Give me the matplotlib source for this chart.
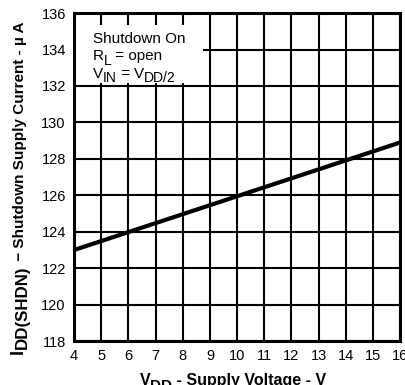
import numpy as np
import matplotlib.pyplot as plt
from matplotlib.patches import Rectangle

# data
vdd = [4, 16]
idd = [123.0, 128.9]

x_ticks = list(range(4, 17))
y_ticks = list(range(118, 137, 2))

plt.rcParams['font.family'] = ['Liberation Sans', 'DejaVu Sans']

fig = plt.figure(figsize=(4.05, 3.85), dpi=100)
ax = fig.add_axes([0.183, 0.114, 0.805, 0.852])


def chain(first, parts, rot=False):
    # parts: (text, size, shift in points); shift < 0 means lowered (subscript)
    prev = first
    for s, size, shift in parts:
        if rot:
            t = ax.annotate(s, xy=(1, 1), xycoords=(first, prev),
                            xytext=(-shift, 0), textcoords='offset points',
                            rotation=90, ha='right', va='bottom',
                            fontsize=size, fontweight=first.get_fontweight(),
                            annotation_clip=False)
        else:
            t = ax.annotate(s, xy=(1, 0), xycoords=(prev, first),
                            xytext=(0, shift), textcoords='offset points',
                            ha='left', va='bottom', fontsize=size,
                            fontweight=first.get_fontweight(),
                            annotation_clip=False)
        prev = t


ax.plot(vdd, idd, color='black', lw=3, zorder=3, solid_capstyle='butt')

ax.set_xlim(4, 16)
ax.set_ylim(118, 136)
ax.set_xticks(x_ticks)
ax.set_yticks(y_ticks)
ax.tick_params(length=0, labelsize=10.5, pad=6)
ax.grid(True, color='black', lw=1.5)
ax.set_axisbelow(True)
for s in ax.spines.values():
    s.set_linewidth(2.2)

# white box behind the conditions text
ax.add_patch(Rectangle((4, 132.15), 4.75, 3.2, facecolor='white',
                       edgecolor='none', zorder=1))
ax.text(4.68, 134.2, 'Shutdown On', fontsize=11, va='bottom', zorder=2)
r = ax.text(4.68, 133.27, 'R', fontsize=11, va='bottom', zorder=2)
chain(r, [('L', 10, -3.5), (' = open', 11, 0)])
v = ax.text(4.68, 132.3, 'V', fontsize=11, va='bottom', zorder=2)
chain(v, [('IN', 10, -3.5), (' = ', 11, 0), ('V', 11, 0), ('DD/2', 10, -3.5)])

# axis labels built from pieces so the subscripts stay large
xl = fig.text(0.345, -0.009, 'V', fontsize=11.5, fontweight='bold', va='bottom')
chain(xl, [('DD', 11, -3), (' - Supply Voltage - V', 11.5, 0)])
yl = fig.text(0.067, 0.081, 'I', fontsize=13, fontweight='bold',
              rotation=90, ha='right', va='bottom')
chain(yl, [('DD(SHDN)', 12.2, -2), (' \u2212 Shutdown Supply Current - \u00b5 A', 11, 0)],
      rot=True)

fig.savefig('out.png', dpi=100)
